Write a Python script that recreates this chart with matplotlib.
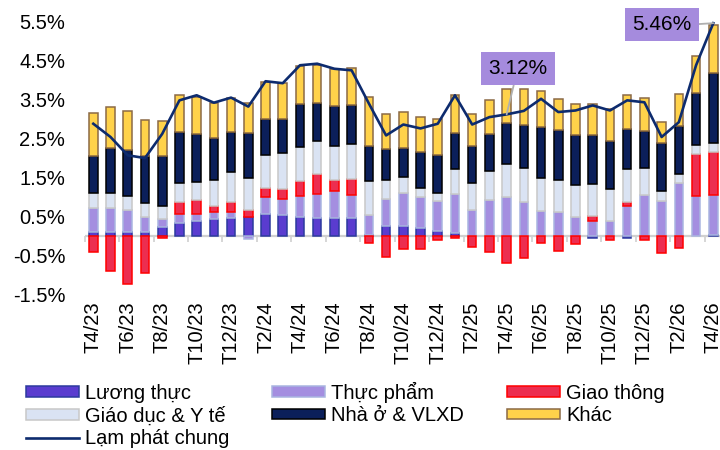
import numpy as np
import matplotlib.pyplot as plt

plt.rcParams['font.family'] = ['Liberation Sans', 'DejaVu Sans']

months = ['T4/23', 'T5/23', 'T6/23', 'T7/23', 'T8/23', 'T9/23', 'T10/23', 'T11/23', 'T12/23',
          'T1/24', 'T2/24', 'T3/24', 'T4/24', 'T5/24', 'T6/24', 'T7/24', 'T8/24', 'T9/24',
          'T10/24', 'T11/24', 'T12/24', 'T1/25', 'T2/25', 'T3/25', 'T4/25', 'T5/25', 'T6/25',
          'T7/25', 'T8/25', 'T9/25', 'T10/25', 'T11/25', 'T12/25', 'T1/26', 'T2/26', 'T3/26',
          'T4/26']

luong_thuc = [0.10, 0.10, 0.10, 0.10, 0.23, 0.33, 0.38, 0.43, 0.47, 0.50,
              0.56, 0.53, 0.49, 0.47, 0.47, 0.46, 0.02, 0.26, 0.26, 0.20,
              0.13, 0.08, 0.00, 0.00, 0.00, 0.00, 0.00, 0.00, 0.00, -0.04,
              0.00, -0.04, 0.00, 0.00, 0.00, 0.00, 0.02]
thuc_pham = [0.63, 0.63, 0.56, 0.39, 0.20, 0.24, 0.18, 0.18, 0.14, -0.07,
             0.44, 0.41, 0.53, 0.62, 0.68, 0.58, 0.53, 0.68, 0.85, 0.80,
             0.78, 1.01, 0.68, 0.93, 1.00, 0.87, 0.64, 0.61, 0.49, 0.38,
             0.38, 0.78, 1.04, 0.91, 1.37, 1.03, 1.02]
giao_thong = [-0.41, -0.91, -1.24, -0.95, -0.04, 0.31, 0.37, 0.17, 0.26, 0.16,
              0.24, 0.26, 0.40, 0.51, 0.29, 0.41, -0.17, -0.54, -0.34, -0.34,
              -0.09, -0.05, -0.28, -0.41, -0.69, -0.56, -0.18, -0.38, -0.20, 0.14,
              -0.09, 0.10, -0.11, -0.44, -0.32, 1.08, 1.11]
giao_duc = [0.37, 0.37, 0.37, 0.36, 0.33, 0.48, 0.45, 0.66, 0.77, 0.84,
            0.85, 0.93, 0.86, 0.85, 0.88, 0.90, 0.85, 0.50, 0.40, 0.22,
            0.20, 0.64, 0.69, 0.73, 0.85, 0.87, 0.85, 0.83, 0.83, 0.82,
            0.83, 0.83, 0.71, 0.24, 0.21, 0.23, 0.24]
nha_o = [0.95, 1.16, 1.18, 1.20, 1.29, 1.32, 1.24, 1.08, 1.04, 1.14,
         0.90, 0.88, 1.10, 0.97, 1.01, 1.01, 0.92, 0.80, 0.75, 0.93,
         0.96, 0.91, 0.94, 0.96, 1.05, 1.11, 1.30, 1.29, 1.28, 1.26,
         1.23, 1.03, 0.94, 1.23, 1.24, 1.32, 1.79]
khac = [1.11, 1.04, 0.99, 0.93, 0.90, 0.94, 0.94, 0.89, 0.86, 0.77,
        0.96, 0.91, 0.99, 0.97, 0.96, 0.96, 1.24, 0.90, 0.92, 0.91,
        0.93, 0.97, 0.83, 0.88, 0.88, 0.91, 0.93, 0.78, 0.79, 0.78,
        0.82, 0.87, 0.86, 0.54, 0.81, 0.95, 1.24]
lam_phat = [2.88, 2.54, 2.07, 2.00, 2.62, 3.48, 3.61, 3.42, 3.55, 3.32,
            3.97, 3.92, 4.38, 4.42, 4.29, 4.25, 3.40, 2.58, 2.86, 2.76,
            2.88, 3.61, 2.86, 3.05, 3.12, 3.21, 3.52, 3.18, 3.22, 3.35,
            3.22, 3.48, 3.43, 2.54, 2.92, 4.38, 5.46]

series = [
    ('Lương thực', luong_thuc, '#5A3CCF', '#2C3A9E'),
    ('Thực phẩm', thuc_pham, '#A48EE0', '#A9B5E0'),
    ('Giao thông', giao_thong, '#EC2E50', '#FF0000'),
    ('Giáo dục & Y tế', giao_duc, '#DAE3F3', '#C8C8C8'),
    ('Nhà ở & VLXD', nha_o, '#0B1F5A', '#000000'),
    ('Khác', khac, '#FFD24A', '#8C6A45'),
]

x = np.arange(len(months))
fig = plt.figure(figsize=(7.2, 4.5), dpi=100)
ax = fig.add_axes([84.7 / 720, 1 - 294.5 / 450, 637.2 / 720, 288.5 / 450])
ax.set_xlim(-0.5, 36.5)
ax.set_ylim(-1.5, 5.9)

pos_base = np.zeros(len(x))
neg_base = np.zeros(len(x))
handles = {}
for name, vals, fc, ec in series:
    v = np.array(vals)
    bottom = np.where(v >= 0, pos_base, neg_base)
    keep = v != 0
    b = ax.bar(x[keep], v[keep], 0.5, bottom=bottom[keep], color=fc,
               edgecolor=ec, linewidth=1.1, zorder=2, label=name)
    handles[name] = b
    pos_base += np.where(v > 0, v, 0)
    neg_base += np.where(v < 0, v, 0)

ln, = ax.plot(x, lam_phat, color='#0D2B6E', lw=1.9, zorder=4,
              solid_joinstyle='round', label='Lạm phát chung')

# zero line with category tick marks
ax.axhline(0, color='#D0D0D0', lw=1.6, zorder=1)
sec = ax.secondary_xaxis(1.5 / 7.4)
sec.set_xticks(np.arange(-0.5, 36.6, 2))
sec.tick_params(axis='x', length=4, width=1.2, color='#D0D0D0', labelbottom=False)
sec.spines['bottom'].set_visible(False)

for s in ax.spines.values():
    s.set_visible(False)
ax.set_yticks(np.arange(-1.5, 5.6, 1))
ax.set_yticklabels([f'{t:.1f}%' for t in np.arange(-1.5, 5.6, 1)])
ax.tick_params(axis='y', length=0, pad=14, labelsize=14.5)
ax.set_xticks(x[::2], months[::2], rotation=90)
ax.tick_params(axis='x', length=0, pad=5, labelsize=14.5)

box = dict(boxstyle='square,pad=0.35', fc='#A58BDD', ec='none')
ax.annotate(f'{lam_phat[24]:.2f}%', xy=(24, lam_phat[24]), xytext=(8, 33),
            textcoords='offset points', ha='center', va='center', fontsize=15,
            bbox=box, zorder=6,
            arrowprops=dict(arrowstyle='-', color='#B0B0B0', lw=1.3, shrinkA=0, shrinkB=0))
ax.annotate(f'{lam_phat[36]:.2f}%', xy=(36, lam_phat[36]), xytext=(-37, -1),
            textcoords='offset points', ha='center', va='center', fontsize=15,
            bbox=box, zorder=6,
            arrowprops=dict(arrowstyle='-', color='#B0B0B0', lw=1.3, shrinkA=0, shrinkB=0,
                            relpos=(1, 0.5)))

order = ['Lương thực', 'Giáo dục & Y tế', None, 'Thực phẩm', 'Nhà ở & VLXD', 'Giao thông', 'Khác']
hs = [handles[n] if n else ln for n in order]
ls = [n if n else 'Lạm phát chung' for n in order]
fig.legend(hs, ls, ncol=3, loc='upper left', bbox_to_anchor=(0.036, 0.152), frameon=False,
           fontsize=14.5, handlelength=2.65, handleheight=0.42, handletextpad=0.3,
           columnspacing=2.1, labelspacing=0.18, borderpad=0, borderaxespad=0)

fig.savefig('out.png', dpi=100)
